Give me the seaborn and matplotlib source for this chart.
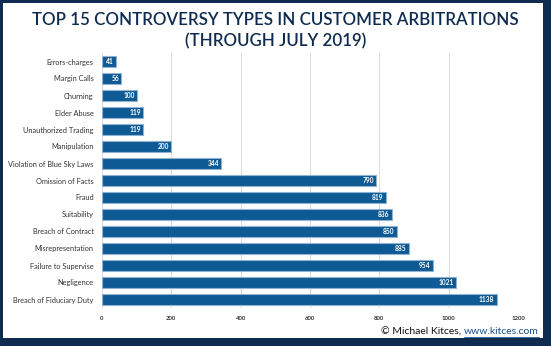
import matplotlib
matplotlib.use("Agg")
import matplotlib.pyplot as plt
import seaborn as sns
import pandas as pd
from matplotlib.patches import Rectangle

categories = [
    "Errors-charges", "Margin Calls", "Churning", "Elder Abuse",
    "Unauthorized Trading", "Manipulation", "Violation of Blue Sky Laws",
    "Omission of Facts", "Fraud", "Suitability", "Breach of Contract",
    "Misrepresentation", "Failure to Supervise", "Negligence",
    "Breach of Fiduciary Duty",
]
counts = [41, 56, 100, 119, 119, 200, 344, 790, 819, 836, 850, 885, 954, 1021, 1138]
x_ticks = [0, 200, 400, 600, 800, 1000, 1200]

df = pd.DataFrame({"category": categories, "count": counts})

navy = "#0f2b50"
bar_color = "#0e5a94"
edge_color = "#8fb3d3"

sns.set_theme(style="white")
plt.rcParams["font.family"] = ["Lato", "DejaVu Sans"]

fig = plt.figure(figsize=(5.51, 3.46), dpi=100)
fig.patch.set_facecolor(navy)

# white inner panel inside the navy frame
W, H = 551, 346
fig.patches.append(Rectangle((3 / W, 8 / H), (543 - 3) / W, (343 - 8) / H,
                             transform=fig.transFigure, facecolor="white",
                             edgecolor="none", zorder=0))

ax = fig.add_axes([102 / W, 1 - 308 / H, (518 - 102) / W, (308 - 53) / H])
ax.set_zorder(2)
ax.set_facecolor("white")

sns.barplot(data=df, x="count", y="category", orient="h", ax=ax,
            color=bar_color, saturation=1, width=0.68,
            edgecolor=edge_color, linewidth=0.8, zorder=3)

for i, v in enumerate(counts):
    ax.text(v - 6, i, str(v), ha="right", va="center", color="white",
            fontsize=4.8, fontweight="bold", zorder=4)

ax.set_xlim(0, 1200)
ax.set_ylim(14.5, -0.5)
ax.set_xticks(x_ticks)
ax.set_xticklabels([str(t) for t in x_ticks], fontsize=4.3, color="#333333",
                   fontweight="bold")
ax.tick_params(axis="y", labelsize=5.3, colors="#333333", length=0, pad=6)
ax.tick_params(axis="x", length=0, pad=6)
ax.xaxis.grid(True, color="#dcdcdc", linewidth=0.8, zorder=0)
ax.set_axisbelow(True)
for s in ax.spines.values():
    s.set_visible(False)
ax.set_xlabel("")
ax.set_ylabel("")

fig.text(0.5, 1 - 20 / H, "TOP 15 CONTROVERSY TYPES IN CUSTOMER ARBITRATIONS",
         ha="center", va="center", fontsize=12.2, color=navy, fontweight="semibold")
fig.text(0.5, 1 - 41 / H, "(THROUGH JULY 2019)",
         ha="center", va="center", fontsize=12.2, color=navy, fontweight="semibold")

# footer credit: link text right-aligned, prefix placed just left of it
link = fig.text(539 / W, 1 - 332 / H, "www.kitces.com", ha="right", va="center",
                fontsize=7.5, color="#1a4f8a")
fig.canvas.draw()
bb = link.get_window_extent()
fig.text(bb.x0 / W - 3 / W, 1 - 332 / H, "© Michael Kitces,", ha="right",
         va="center", fontsize=7.5, color="#111111")
fig.add_artist(plt.Line2D([bb.x0 / W, bb.x1 / W], [1 - 337 / H, 1 - 337 / H],
                          color="#1a4f8a", linewidth=0.6,
                          transform=fig.transFigure))

fig.savefig("out.png", dpi=100, facecolor=fig.get_facecolor())
